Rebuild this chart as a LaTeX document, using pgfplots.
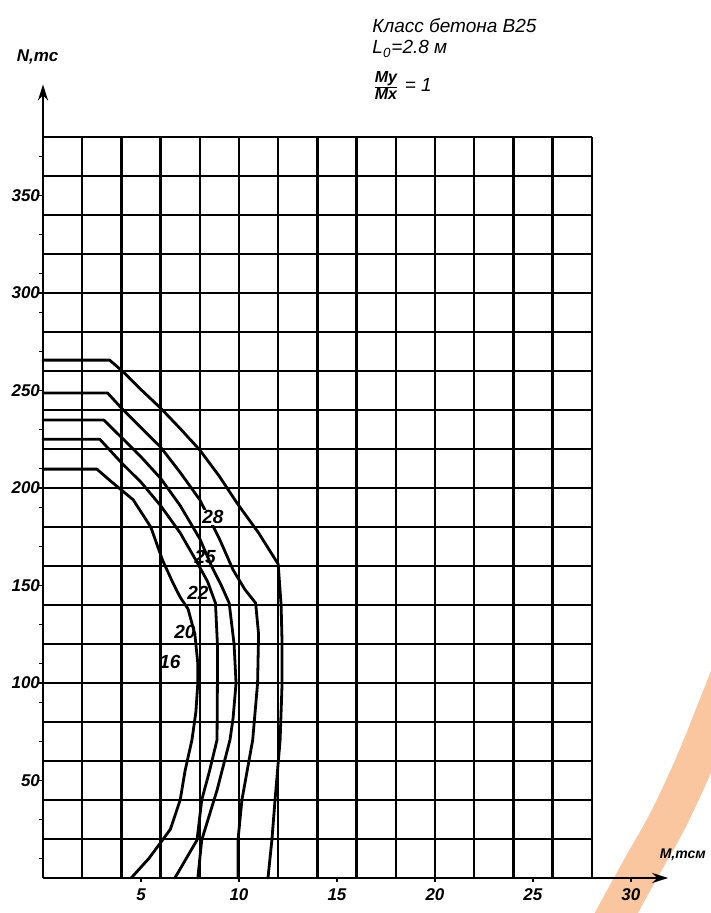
\documentclass[border=0pt]{standalone}
\usepackage{fontspec}
\setmainfont{Liberation Sans}
\usepackage{pgfplots}
\pgfplotsset{compat=1.18}
\usetikzlibrary{arrows.meta}
\definecolor{band}{RGB}{250,198,160}
\tikzset{
  curve/.style={black, line width=1.4pt, line join=round, line cap=round},
  gridl/.style={black, line width=1.15pt},
  clab/.style={font=\bfseries\itshape\fontsize{9.5}{11}\selectfont, inner sep=0.5pt},
}

\begin{document}
\begin{tikzpicture}
\begin{axis}[
  x=9.8pt, y=0.975pt,
  xmin=0, xmax=31.9, ymin=0, ymax=407,
  axis lines=left,
  axis on top,
  axis line style={line width=1.3pt, -{Stealth[length=8pt,width=5pt]}},
  xtick={5,10,15,20,25,30},
  ytick={50,100,...,350},
  minor ytick={10,30,...,370},
  tick style={black, line width=0.8pt},
  major tick length=2pt,
  minor tick length=2pt,
  tick align=outside,
  /pgf/number format/assume math mode=true,
  ticklabel style={font=\bfseries\itshape\fontsize{8.5}{10}\selectfont},
  xticklabel style={yshift=0pt},
  yticklabel style={xshift=4pt},
  clip=false,
]
% scan band
\addplot[band, line width=19pt, smooth, forget plot]
  coordinates {(28.6,-30)(30.46,4.1)(31.89,29.7)(33.27,59.5)(34.54,91.3)(35.6,118)};

% grid
\pgfplotsinvokeforeach{2,4,...,28}{\draw[gridl] (axis cs:#1,0) -- (axis cs:#1,380);}
\pgfplotsinvokeforeach{20,40,...,380}{\draw[gridl] (axis cs:0,#1) -- (axis cs:28,#1);}

% d = 28
\addplot[curve] coordinates {(0,265.6)(3.4,265.6)(4.1,259.5)(5.0,250.5)(6.0,241)(7.0,230.5)(8.0,219.5)(9.0,206)(9.9,192.3)(11.0,177)(12.0,161)(12.15,140)(12.2,120)(12.2,100)(12.1,70.8)(11.84,40)(11.68,19.5)(11.48,0)};
% d = 25
\addplot[curve] coordinates {(0,248.7)(3.3,248.7)(4.0,241)(5.0,231)(6.0,221)(7.0,208)(8.0,194)(8.5,184)(9.0,174)(9.7,158)(10.3,148)(10.85,141)(11.0,125)(10.95,100)(10.7,70.8)(10.15,40)(9.95,19.5)(9.95,0)};
% d = 22
\addplot[curve] coordinates {(0,234.9)(3.1,234.9)(4.1,225)(5.0,216)(6.0,205)(7.0,191)(8.0,174)(8.6,160)(9.1,150)(9.5,141)(9.75,120)(9.85,100)(9.7,82)(9.54,70.8)(8.88,45)(8.1,19.5)(7.9,0)};
% d = 20
\addplot[curve] coordinates {(0,225)(2.9,225)(4.0,213)(5.0,203)(6.0,191)(7.0,177)(7.8,163)(8.4,152)(8.8,141)(8.9,120)(8.9,100)(8.88,70.8)(8.5,55)(8.1,40)(7.86,19.5)(6.73,0)};
% d = 16
\addplot[curve] coordinates {(0,209.7)(2.75,209.7)(3.4,204)(4.6,194)(5.5,180)(6.1,163)(6.6,152)(7.0,144)(7.4,138)(7.75,125)(7.9,110)(7.9,100)(7.8,85)(7.6,70.8)(7.25,55)(7.0,40)(6.5,25)(6.1,19.5)(5.4,10)(4.5,0)};

% curve labels
\node[clab, fill=white] at (axis cs:8.67,185) {28};
\node[clab] at (axis cs:8.27,164.6) {25};
\node[clab] at (axis cs:7.9,146) {22};
\node[clab] at (axis cs:7.24,126) {20};
\node[clab] at (axis cs:6.48,110.8) {16};

% axis names
\node[anchor=west, font=\bfseries\itshape\fontsize{8.5}{10}\selectfont, inner sep=0pt] at (axis cs:-1.35,421) {N,тс};
\node[anchor=west, font=\bfseries\itshape\fontsize{7}{8}\selectfont, inner sep=0pt] at (axis cs:31.45,11.8) {M,тсм};

% title block
\node[anchor=west, font=\itshape\fontsize{9.5}{11}\selectfont, inner sep=0pt] at (axis cs:16.79,437.4) {Класс бетона В25};
\node[anchor=west, font=\itshape\fontsize{9.5}{11}\selectfont, inner sep=0pt] at (axis cs:16.79,425.2) {L\textsubscript{0}=2.8 м};
\node[anchor=west, font=\itshape\fontsize{9.5}{11}\selectfont, inner sep=0pt] at (axis cs:16.79,406.5) {$\frac{\mbox{\bfseries\itshape\fontsize{8}{9}\selectfont Mу}}{\mbox{\bfseries\itshape\fontsize{8}{9}\selectfont Mх}}$ = 1};

\coordinate (bl) at (axis cs:-2.194,-17.95);
\coordinate (tr) at (axis cs:34.08,450.3);
\end{axis}
\pgfresetboundingbox
\path[use as bounding box] (bl) rectangle (tr);
\end{tikzpicture}
\end{document}
